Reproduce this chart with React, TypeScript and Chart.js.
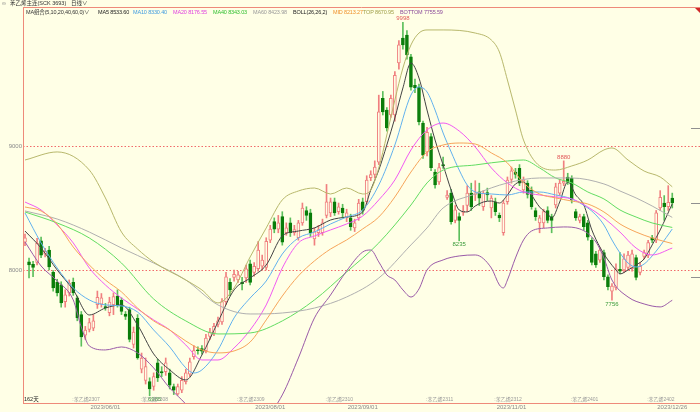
import React, { useEffect, useRef } from 'react';
import { Chart, registerables } from 'chart.js';

Chart.register(...registerables);

const BG = '#ffffe6';
const FONT = '"Liberation Sans", "Noto Sans CJK SC", sans-serif';
const UP = '#f07f7f';
const DOWN_BODY = '#0a7d0a';
const DOWN_WICK = '#5cbf5c';

// ---- OHLC (162 trading days, 2023/05/04 .. 2023/12/26) ----
const opens = [
  8225, 8065, 8045, 8060, 8235, 8130, 8160, 7980, 7900, 7880,
  7745, 7815, 7900, 7775, 7640, 7475, 7520, 7530, 7720, 7725,
  7705, 7655, 7720, 7790, 7755, 7645, 7680, 7400, 7610, 7200,
  7110, 7100, 7060, 7250, 7180, 7180, 7170, 7060, 7000, 7030,
  7100, 7160, 7300, 7355, 7365, 7350, 7465, 7490, 7560, 7580,
  7745, 7900, 7940, 7920, 7900, 7935, 8050, 7980, 8010, 8030,
  8020, 8240, 8390, 8330, 8430, 8300, 8380, 8300, 8260, 8380,
  8480, 8460, 8250, 8300, 8300, 8440, 8460, 8550, 8470, 8500,
  8420, 8420, 8340, 8420, 8550, 8550, 8745, 8770, 8870, 9385,
  9290, 9250, 9250, 9670, 9870, 9895, 9720, 9490, 9475, 9185,
  8950, 9075, 8790, 8710, 8850, 8585, 8620, 8400, 8430, 8465,
  8520, 8620, 8610, 8630, 8510, 8625, 8500, 8550, 8440, 8300,
  8550, 8730, 8790, 8820, 8645, 8700, 8645, 8480, 8380, 8380,
  8480, 8430, 8525, 8620, 8700, 8750, 8740, 8470, 8400, 8430,
  8380, 8240, 8130, 8080, 8140, 7945, 7830, 7860, 8005, 8000,
  8020, 8010, 8100, 7980, 8110, 8120, 8260, 8240, 8500, 8540,
  8510, 8580,
];
const closes = [
  8260, 8040, 8020, 8215, 8120, 8150, 8025, 7855, 7815, 7735,
  7800, 7895, 7815, 7615, 7460, 7515, 7575, 7590, 7780, 7775,
  7695, 7740, 7785, 7720, 7665, 7625, 7440, 7500, 7290, 7290,
  7220, 7040, 7140, 7130, 7170, 7250, 7070, 7030, 7060, 7110,
  7170, 7260, 7350, 7350, 7345, 7450, 7500, 7545, 7590, 7745,
  7945, 7840, 7965, 7960, 7890, 8010, 7900, 8030, 8160, 8080,
  8230, 8330, 8330, 8380, 8225, 8340, 8300, 8325, 8380, 8500,
  8440, 8300, 8310, 8325, 8380, 8550, 8550, 8460, 8510, 8460,
  8460, 8350, 8380, 8540, 8480, 8725, 8770, 8830, 9275, 9275,
  9145, 9385, 9570, 9815, 9815, 9735, 9475, 9470, 9195, 8925,
  9110, 8825, 8685, 8825, 8840, 8605, 8390, 8485, 8400, 8475,
  8620, 8510, 8620, 8580, 8620, 8605, 8580, 8470, 8420, 8540,
  8725, 8800, 8770, 8700, 8725, 8610, 8510, 8430, 8420, 8470,
  8400, 8400, 8670, 8700, 8715, 8710, 8565, 8420, 8430, 8350,
  8265, 8060, 8040, 8160, 7945, 7865, 7870, 8010, 7990, 8090,
  8120, 8130, 7940, 8030, 8140, 8220, 8240, 8460, 8585, 8510,
  8545, 8540,
];
const highs = [
  8290, 8095, 8070, 8255, 8265, 8175, 8190, 7995, 7925, 7905,
  7840, 7920, 7935, 7790, 7665, 7545, 7610, 7640, 7830, 7810,
  7730, 7780, 7815, 7840, 7775, 7665, 7700, 7540, 7640, 7330,
  7290, 7130, 7170, 7280, 7220, 7290, 7200, 7080, 7080, 7140,
  7200, 7290, 7390, 7380, 7390, 7480, 7530, 7570, 7620, 7770,
  7980, 7930, 8000, 7990, 7940, 8040, 8080, 8060, 8230, 8120,
  8260, 8360, 8420, 8440, 8470, 8380, 8420, 8360, 8400, 8540,
  8510, 8490, 8340, 8360, 8410, 8690, 8580, 8580, 8540, 8530,
  8490, 8450, 8410, 8570, 8580, 8760, 8800, 8880, 9410, 9440,
  9310, 9410, 9600, 9850, 9998, 9930, 9740, 9540, 9500, 9200,
  9150, 9100, 8810, 8860, 8910, 8640, 8650, 8520, 8460, 8520,
  8680, 8700, 8720, 8700, 8640, 8660, 8600, 8580, 8460, 8560,
  8750, 8830, 8820, 8850, 8750, 8720, 8670, 8500, 8440, 8490,
  8510, 8450, 8700, 8730, 8880, 8780, 8760, 8490, 8450, 8450,
  8400, 8260, 8150, 8180, 8160, 7960, 7890, 8050, 8140, 8130,
  8150, 8160, 8120, 8060, 8160, 8240, 8280, 8480, 8640, 8600,
  8680, 8620,
];
const lows = [
  8195, 7935, 7945, 8040, 8100, 8105, 8000, 7830, 7790, 7700,
  7700, 7790, 7795, 7590, 7385, 7440, 7500, 7510, 7690, 7700,
  7675, 7630, 7640, 7700, 7640, 7600, 7420, 7370, 7280, 7170,
  7080, 6985, 7030, 7100, 7140, 7150, 7040, 6995, 6990, 7010,
  7080, 7140, 7280, 7320, 7320, 7330, 7440, 7470, 7540, 7560,
  7720, 7790, 7910, 7900, 7840, 7900, 7880, 7950, 7990, 8000,
  8000, 8220, 8300, 8300, 8200, 8280, 8270, 8280, 8240, 8360,
  8400, 8270, 8200, 8270, 8280, 8420, 8430, 8440, 8450, 8420,
  8390, 8320, 8310, 8400, 8450, 8530, 8720, 8740, 8850, 9250,
  9120, 9230, 9200, 9620, 9780, 9700, 9450, 9430, 9170, 8900,
  8920, 8800, 8660, 8690, 8820, 8570, 8370, 8380, 8235, 8440,
  8470, 8480, 8560, 8520, 8480, 8560, 8420, 8440, 8390, 8280,
  8530, 8700, 8740, 8680, 8620, 8580, 8490, 8400, 8300, 8340,
  8380, 8300, 8500, 8600, 8680, 8690, 8540, 8400, 8380, 8320,
  8240, 8040, 8020, 8060, 7920, 7840, 7756, 7840, 7970, 7980,
  8000, 7990, 7920, 7960, 8090, 8100, 8220, 8220, 8480, 8400,
  8480, 8500,
];

// ---- indicator lines at sample days ----
const ma5Idx = [0, 4, 8, 12, 16, 20, 24, 28, 32, 36, 40, 44, 48, 52, 56, 60, 64, 68, 72, 76, 80, 84, 86, 88, 90, 92, 94, 96, 98, 100, 102, 104, 106, 108, 110, 112, 114, 116, 118, 120, 122, 124, 126, 128, 130, 131, 133, 135, 137, 139, 141, 143, 145, 147, 148, 150, 152, 154, 156, 158, 161];
const ma5Val = [8314, 8177, 8000, 7839, 7637, 7693, 7718, 7556, 7323, 7194, 7113, 7314, 7581, 7839, 7935, 8040, 8274, 8314, 8339, 8403, 8427, 8468, 8645, 8806, 9008, 9226, 9468, 9669, 9548, 9290, 9048, 8847, 8645, 8484, 8468, 8516, 8548, 8556, 8540, 8605, 8694, 8710, 8605, 8508, 8452, 8419, 8548, 8710, 8605, 8524, 8323, 8185, 8081, 8000, 7968, 8000, 8040, 8089, 8202, 8323, 8533.6];

const ma10Idx = [0, 4, 8, 12, 16, 20, 24, 28, 32, 36, 40, 42, 44, 48, 52, 56, 60, 64, 68, 72, 76, 80, 84, 88, 92, 96, 98, 100, 102, 104, 106, 108, 110, 112, 116, 120, 124, 128, 132, 136, 140, 142, 144, 146, 148, 150, 152, 154, 156, 158, 161];
const ma10Val = [8460, 8218, 8016, 7855, 7758, 7718, 7710, 7661, 7516, 7379, 7210, 7169, 7194, 7355, 7613, 7774, 7911, 8129, 8258, 8306, 8371, 8427, 8484, 8685, 9008, 9411, 9476, 9436, 9290, 9105, 8952, 8806, 8685, 8629, 8613, 8605, 8629, 8629, 8605, 8573, 8500, 8444, 8363, 8242, 8137, 8056, 8024, 8048, 8113, 8194, 8330.4];

const ma20Idx = [0, 4, 8, 12, 16, 20, 24, 28, 32, 36, 40, 44, 48, 52, 56, 60, 64, 68, 72, 76, 80, 84, 88, 92, 96, 100, 104, 108, 112, 116, 120, 124, 128, 132, 136, 140, 144, 148, 152, 156, 161];
const ma20Val = [8548, 8484, 8363, 8218, 8016, 7879, 7774, 7685, 7597, 7516, 7395, 7274, 7274, 7371, 7516, 7718, 8016, 8218, 8274, 8323, 8371, 8435, 8565, 8726, 8968, 9129, 9185, 9121, 8992, 8823, 8702, 8629, 8605, 8589, 8573, 8508, 8419, 8306, 8177, 8121, 8176.55];

const ma40Idx = [0, 8, 16, 24, 32, 40, 48, 56, 64, 72, 80, 88, 96, 100, 104, 112, 120, 124, 128, 132, 136, 140, 144, 148, 152, 156, 161];
const ma40Val = [8468, 8379, 8258, 8056, 7766, 7589, 7484, 7492, 7589, 7758, 7984, 8218, 8524, 8702, 8806, 8847, 8879, 8887, 8823, 8742, 8702, 8629, 8573, 8484, 8427, 8379, 8343.03];

const ma60Idx = [0, 8, 16, 24, 32, 40, 48, 56, 64, 72, 80, 88, 96, 100, 104, 112, 120, 128, 136, 144, 148, 152, 156, 161];
const ma60Val = [8476, 8411, 8306, 8177, 8056, 7919, 7718, 7645, 7653, 7693, 7782, 7935, 8202, 8339, 8500, 8613, 8702, 8742, 8742, 8694, 8637, 8581, 8516, 8423.98];

const midIdx = [0, 4, 8, 12, 16, 20, 24, 28, 32, 36, 40, 44, 48, 52, 56, 60, 64, 68, 72, 76, 80, 84, 88, 92, 96, 100, 104, 108, 112, 116, 120, 124, 128, 132, 136, 140, 144, 148, 152, 156, 161];
const midVal = [8508, 8476, 8371, 8185, 8040, 7919, 7823, 7693, 7589, 7516, 7427, 7355, 7331, 7347, 7419, 7597, 7790, 7952, 8073, 8169, 8242, 8331, 8427, 8589, 8790, 8952, 9008, 9024, 9016, 8944, 8863, 8702, 8613, 8581, 8556, 8532, 8468, 8371, 8306, 8258, 8213.27];

const topIdx = [0, 8, 16, 20, 24, 28, 32, 40, 44, 48, 52, 56, 60, 64, 68, 72, 76, 80, 84, 86, 88, 90, 92, 94, 96, 98, 100, 104, 112, 116, 118, 120, 122, 124, 128, 132, 136, 140, 144, 146, 150, 154, 158, 161];
const topVal = [8887, 8952, 8806, 8581, 8306, 8169, 8064, 7919, 7839, 7734, 7855, 8105, 8339, 8565, 8637, 8661, 8613, 8661, 8613, 8645, 8823, 9089, 9371, 9629, 9815, 9911, 9936, 9936, 9911, 9855, 9758, 9532, 9290, 9048, 8839, 8806, 8839, 8887, 8968, 8984, 8887, 8798, 8750, 8670.95];

const botIdx = [0, 4, 8, 12, 14, 16, 20, 24, 28, 32, 36, 39, 44, 50, 56, 60, 64, 68, 72, 76, 80, 84, 86, 88, 90, 92, 94, 96, 98, 100, 104, 108, 112, 116, 118, 119, 120, 122, 124, 126, 130, 134, 138, 142, 144, 146, 150, 154, 158, 161];
const botVal = [8226, 8032, 7911, 7758, 7540, 7387, 7355, 7379, 7331, 7210, 7048, 6952, 6790, 6693, 6726, 6806, 6992, 7290, 7613, 7798, 7992, 8145, 8161, 8065, 7960, 7919, 7839, 7782, 7847, 8000, 8081, 8113, 8121, 8016, 7879, 7855, 7919, 8097, 8242, 8314, 8339, 8347, 8331, 8226, 8097, 7919, 7782, 7726, 7702, 7755.59];

// ---- axis / annotation labels ----
const yTickVals = [8000, 9000];
const refLineVals = [8000, 9000];
const rightTickVals = [9145, 8540, 7944];
const dateTickIdx = [20, 61, 84, 121, 161];
const dateTickLabels = ['2023/06/01', '2023/08/01', '2023/09/01', '2023/11/01', '2023/12/26'];
const contractIdx = [12, 29, 53, 75, 100, 117, 136, 155];
const contractLabels = [':苯乙烯2307', ':苯乙烯2308', ':苯乙烯2309', ':苯乙烯2310', ':苯乙烯2311', ':苯乙烯2312', ':苯乙烯2401', ':苯乙烯2402'];
const highMarkIdx = [94, 134];
const lowMarkIdx = [31, 108, 146];
const dayCountLabel = `${opens.length}天`;

const last = (a: number[]) => a[a.length - 1].toFixed(2);

const pts = (idx: number[], val: number[]) => idx.map((x, k) => ({ x, y: val[k] }));
const isUp = (i: number) => closes[i] >= opens[i];

const lineDs = (label: string, idx: number[], val: number[], color: string) => ({
  type: 'line' as const,
  label,
  data: pts(idx, val),
  borderColor: color,
  borderWidth: 1,
  pointRadius: 0,
  cubicInterpolationMode: 'monotone' as const,
  fill: false,
  order: 0,
});

const decor = {
  id: 'decor',
  beforeDraw(chart: any) {
    const { ctx, width, height } = chart;
    ctx.save();
    ctx.fillStyle = BG;
    ctx.fillRect(0, 0, width, height);
    ctx.restore();
  },
  beforeDatasetsDraw(chart: any) {
    const { ctx, chartArea: a, scales } = chart;
    const y = scales.y;
    ctx.save();
    ctx.strokeStyle = '#f06a6a';
    ctx.lineWidth = 1;
    ctx.setLineDash([1.5, 2]);
    refLineVals.forEach((v) => {
      const py = Math.round(y.getPixelForValue(v)) + 0.5;
      ctx.beginPath();
      ctx.moveTo(a.left, py);
      ctx.lineTo(a.right, py);
      ctx.stroke();
    });
    ctx.restore();
  },
  afterDatasetsDraw(chart: any) {
    const { ctx, chartArea: a, scales, width } = chart;
    const x = scales.x;
    const y = scales.y;
    ctx.save();
    // frame
    ctx.strokeStyle = '#ee8a7a';
    ctx.lineWidth = 1;
    ctx.beginPath();
    ctx.moveTo(Math.round(a.left) + 0.5, a.top);
    ctx.lineTo(Math.round(a.left) + 0.5, a.bottom + 1);
    ctx.moveTo(a.left, Math.round(a.top) - 0.5);
    ctx.lineTo(width, Math.round(a.top) - 0.5);
    ctx.moveTo(a.left, Math.round(a.bottom) + 0.5);
    ctx.lineTo(width, Math.round(a.bottom) + 0.5);
    ctx.stroke();
    ctx.fillStyle = '#d02828';
    ctx.beginPath();
    ctx.moveTo(width - 5, a.top);
    ctx.lineTo(width, a.top);
    ctx.lineTo(width, a.top + 5);
    ctx.closePath();
    ctx.fill();
    // right-hand tick marks
    ctx.strokeStyle = '#909090';
    rightTickVals.forEach((v) => {
      const py = Math.round(y.getPixelForValue(v)) + 0.5;
      ctx.beginPath();
      ctx.moveTo(width - 9, py);
      ctx.lineTo(width, py);
      ctx.stroke();
    });
    // high / low marks
    ctx.font = `6px ${FONT}`;
    ctx.textAlign = 'center';
    ctx.fillStyle = '#e25a5a';
    ctx.textBaseline = 'bottom';
    highMarkIdx.forEach((i) => {
      ctx.fillText(String(highs[i]), x.getPixelForValue(i), y.getPixelForValue(highs[i]) - 1);
    });
    ctx.fillStyle = '#3a9a3a';
    ctx.textBaseline = 'top';
    lowMarkIdx.forEach((i) => {
      ctx.fillText(String(lows[i]), x.getPixelForValue(i) + (i === 31 ? 5 : 0), y.getPixelForValue(lows[i]) + 1);
    });
    // contract roll labels
    ctx.font = `5px ${FONT}`;
    ctx.textAlign = 'left';
    ctx.textBaseline = 'bottom';
    ctx.fillStyle = '#9a9a9a';
    contractIdx.forEach((i, k) => {
      ctx.fillText(contractLabels[k], x.getPixelForValue(i) - 1, a.bottom - 1);
    });
    ctx.fillStyle = '#222';
    ctx.font = `5.5px ${FONT}`;
    ctx.fillText(dayCountLabel, a.left + 1, a.bottom - 1);
    ctx.restore();
  },
};

const header1 = [
  { text: '∞', x: 2, color: '#888' },
  { text: '苯乙烯主连(SCK 3693)', x: 10, color: '#333' },
  { text: '日线∨', x: 71, color: '#333' },
];
const header2 = [
  { text: 'MA组合(5,10,20,40,60,0)∨', x: 26, color: '#333' },
  { text: `MA5 ${last(ma5Val)}`, x: 98, color: '#222' },
  { text: `MA10 ${last(ma10Val)}`, x: 133, color: '#3f9be0' },
  { text: `MA20 ${last(ma20Val)}`, x: 173, color: '#e040e0' },
  { text: `MA40 ${last(ma40Val)}`, x: 213, color: '#2fbf2f' },
  { text: `MA60 ${last(ma60Val)}`, x: 253, color: '#9a9a9a' },
  { text: 'BOLL(26,26,2)', x: 293, color: '#222' },
  { text: `MID ${last(midVal)}`, x: 333, color: '#f0902a' },
  { text: `TOP ${last(topVal)}`, x: 363, color: '#a0a04a' },
  { text: `BOTTOM ${last(botVal)}`, x: 400, color: '#8a4a9a' },
];

export default function App() {
  const ref = useRef<HTMLCanvasElement>(null);

  useEffect(() => {
    const canvas = ref.current;
    if (!canvas) return;
    const n = opens.length;
    const chart = new Chart(canvas, {
      type: 'bar',
      data: {
        datasets: [
          lineDs('BOTTOM', botIdx, botVal, '#9a5aa8'),
          lineDs('TOP', topIdx, topVal, '#b8b86c'),
          lineDs('MID', midIdx, midVal, '#f7a55a'),
          lineDs('MA60', ma60Idx, ma60Val, '#b0b0b0'),
          lineDs('MA40', ma40Idx, ma40Val, '#62dd62'),
          lineDs('MA20', ma20Idx, ma20Val, '#f25af2'),
          lineDs('MA10', ma10Idx, ma10Val, '#62b2ee'),
          lineDs('MA5', ma5Idx, ma5Val, '#444444'),
          {
            type: 'bar' as const,
            label: 'body',
            data: Array.from({ length: n }, (_, i) => ({ x: i, y: [opens[i], closes[i]] })) as any,
            backgroundColor: (c: any) => (isUp(c.dataIndex) ? BG : DOWN_BODY),
            borderColor: (c: any) => (isUp(c.dataIndex) ? UP : DOWN_BODY),
            borderWidth: 1,
            borderSkipped: false,
            barThickness: 3,
            grouped: false,
            order: 1,
          } as any,
          {
            type: 'bar' as const,
            label: 'wick',
            data: Array.from({ length: n }, (_, i) => ({ x: i, y: [lows[i], highs[i]] })) as any,
            backgroundColor: (c: any) => (isUp(c.dataIndex) ? UP : DOWN_WICK),
            borderWidth: 0,
            barThickness: 1,
            grouped: false,
            order: 2,
          } as any,
        ],
      },
      options: {
        animation: false,
        responsive: false,
        devicePixelRatio: 1,
        layout: { padding: { top: 8, left: 0, right: 0, bottom: 0 } },
        plugins: { legend: { display: false }, tooltip: { enabled: false } },
        scales: {
          x: {
            type: 'linear',
            min: -0.5,
            max: 167.9,
            offset: false,
            grid: { display: false, drawTicks: false },
            border: { display: false },
            afterBuildTicks: (s: any) => {
              s.ticks = dateTickIdx.map((v) => ({ value: v }));
            },
            afterFit: (s: any) => {
              s.height = 9;
            },
            ticks: {
              autoSkip: false,
              maxRotation: 0,
              padding: 1,
              color: '#8a8a8a',
              font: { size: 6, family: FONT },
              callback: (v: any) => {
                const k = dateTickIdx.indexOf(Number(v));
                return k >= 0 ? dateTickLabels[k] : '';
              },
            },
          },
          y: {
            type: 'linear',
            position: 'left',
            min: 6927,
            max: 10113,
            grid: { display: false, drawTicks: false },
            border: { display: false },
            afterBuildTicks: (s: any) => {
              s.ticks = yTickVals.map((v) => ({ value: v }));
            },
            afterFit: (s: any) => {
              s.width = 23;
            },
            ticks: {
              padding: 1,
              color: '#8a8a8a',
              font: { size: 6, family: FONT },
              callback: (v: any) => String(v),
            },
          },
        },
      } as any,
      plugins: [decor],
    });
    return () => chart.destroy();
  }, []);

  return (
    <div
      style={{
        position: 'fixed',
        left: 0,
        top: 0,
        width: 700,
        height: 412,
        background: BG,
        overflow: 'hidden',
        fontFamily: FONT,
      }}
    >
      <canvas ref={ref} width={700} height={412} style={{ position: 'absolute', left: 0, top: 0, width: 700, height: 412 }} />
      {header1.map((h, k) => (
        <span
          key={'a' + k}
          style={{ position: 'absolute', left: h.x, top: 0, fontSize: 5.5, lineHeight: '7px', color: h.color, whiteSpace: 'nowrap' }}
        >
          {h.text}
        </span>
      ))}
      {header2.map((h, k) => (
        <span
          key={'b' + k}
          style={{
            position: 'absolute',
            left: h.x,
            top: 9,
            fontSize: 5.5,
            lineHeight: '7px',
            letterSpacing: '-0.15px',
            color: h.color,
            whiteSpace: 'nowrap',
          }}
        >
          {h.text}
        </span>
      ))}
    </div>
  );
}
